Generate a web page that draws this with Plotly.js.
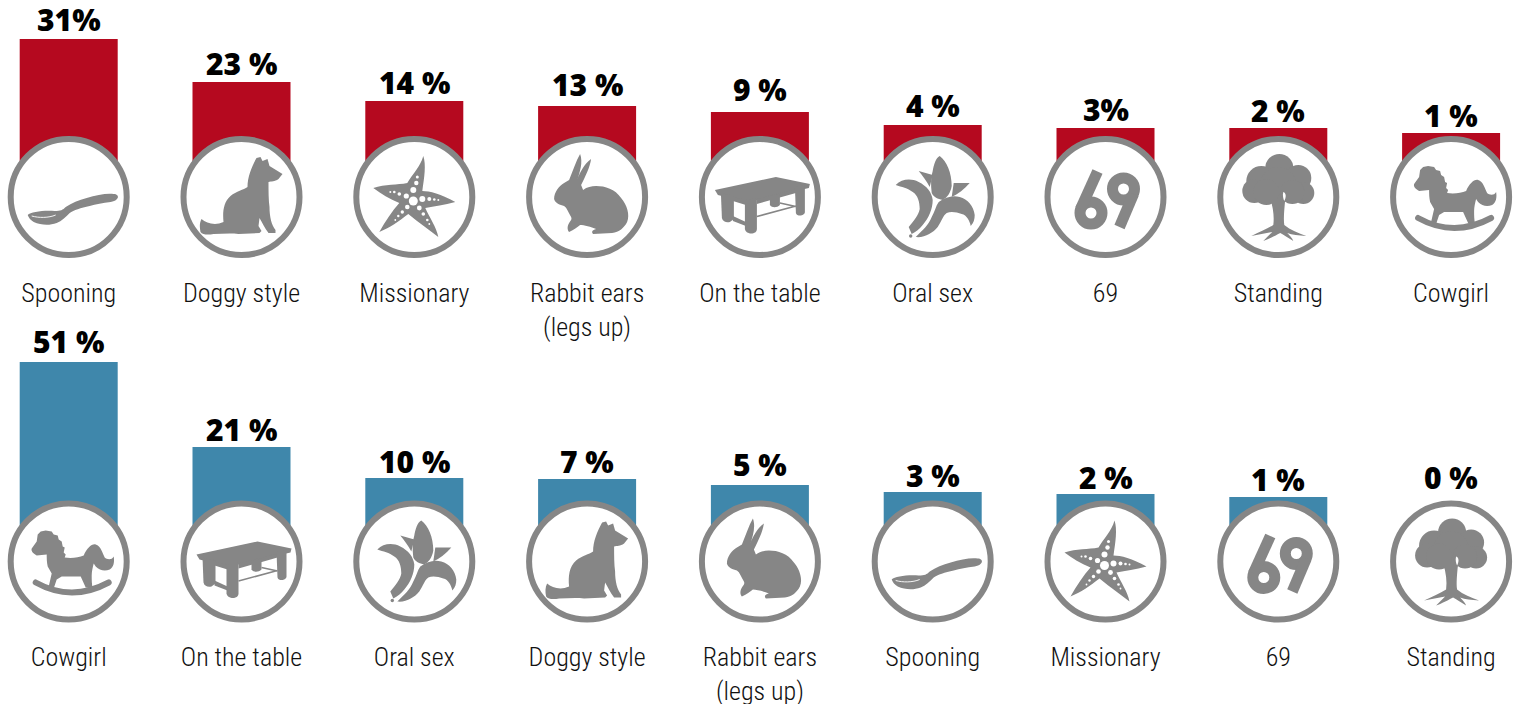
<!DOCTYPE html>
<html><head><meta charset="utf-8">
<script src="https://cdn.plot.ly/plotly-3.0.1.min.js"></script>
<style>html,body{margin:0;padding:0;background:#fff;overflow:hidden}</style>
</head><body><div id="chart" style="width:1521px;height:704px"></div>
<script>
const topCategories = ["Spooning","Doggy style","Missionary","Rabbit ears<br>(legs up)","On the table","Oral sex","69","Standing","Cowgirl"];
const topLabels = ["31%","23 %","14 %","13 %","9 %","4 %","3%","2 %","1 %"];
const topBarHeights = [158,115,96,91,85,72,69,69,64];
const bottomCategories = ["Cowgirl","On the table","Oral sex","Doggy style","Rabbit ears<br>(legs up)","Spooning","Missionary","69","Standing"];
const bottomLabels = ["51 %","21 %","10 %","7 %","5 %","3 %","2 %","1 %","0 %"];
const bottomBarHeights = [199.5,114.5,83.5,82.5,76.5,69.5,67.5,64.5,0];

const RED = "#b5091f", BLUE = "#3f87ab", GREY = "#868686", INK = "#000";
const topLabelLift = [-2,-3,-3,0,1,-2,-3,-4,-4];
const bottomLabelLift = [-1,-4,-5,-4,-1,-5,-5,-4,63];

const dots = (list) => list.map(d => `<circle cx="${d[0]}" cy="${d[1]}" r="${d[2]}" fill="#fff"/>`).join("");
const icons = {
  "Spooning": `<path d="M-41,18 C-38,15 -25,13 -14,14 C-8,14 -6,13 -3,10 C3,6 10,3 18,1 C28,-2 38,-4 45,-3 C48,-3 50,-1 49,1 C48,3 46,4 42,5 C34,6 27,7 21,9 C12,11 5,13 1,16 C-3,20 -7,24 -12,26 C-20,29 -28,28 -35,25 C-38,23 -40,21 -41,18 Z"/><path d="M-37,19 C-30,21 -20,21 -13,18" fill="none" stroke="#fff" stroke-width="0.9"/>`,
  "Doggy style": `<path d="M15,-39 L19,-40 L21,-36 L26,-38 L28,-31 L41,-23 L37,-18 C33,-15 30,-16 27,-15 C27,-6 27,3 28,10 C28,20 30,28 34,33 L34,36 L27,36 C23,31 21,26 18,21 L17,29 L20,34 L18,36 L-3,37 C-12,36 -20,37 -28,37 C-33,38 -39,38 -41,35 C-42,30 -42,26 -40,22 C-35,26 -27,29 -18,25 C-19,15 -18,5 -11,-1 C-5,-6 2,-7 6,-10 C6,-20 10,-30 15,-39 Z"/>`,
  "Missionary": `<path d="M9,-41 C12,-32 10,-20 8,-6 C15,-6 27,-3 41,5 C30,8 20,9 11,11 C15,20 22,30 24,40 C15,33 5,26 -6,17 C-15,24 -25,31 -35,35 C-29,24 -22,14 -15,6 C-25,2 -33,-3 -41,-9 C-29,-13 -17,-12 -7,-14 C-2,-23 6,-30 9,-41 Z"/>` + dots([[-1,4,4.5],[-1,-7,3],[2,-14,2.2],[3,-20,1.5],[-8,-1,2.6],[-15,-3,1.8],[-20,-5,1.3],[-24,-5,1],[8,2,3],[15,2,2],[20,2.5,1.3],[24,3,1],[5,11,2.4],[9,17,1.8],[13,23,1.3],[15,27,0.9],[-7,10,2.3],[-12,15,1.7],[-16,19,1.2],[-19,23,0.9]]),
  "Rabbit ears": `<path d="M-7,-43 C-4,-35 -7,-25 -10,-17 C-7,-25 -3,-33 4,-38 C3,-30 -2,-20 -6,-12 L-4,-7 C0,-10 4,-11 9,-11 C18,-11 28,-8 34,1 C40,8 43,18 40,25 C37,31 32,35 25,36 L6,37 C4,35 5,33 9,32 C4,30 -3,28 -7,28 C-10,30 -13,33 -18,35 C-20,33 -20,29 -18,26 C-16,23 -15,22 -16,20 C-19,15 -20,11 -23,9 C-27,8 -32,6 -33,2 C-33,-5 -28,-11 -23,-14 L-18,-17 C-14,-27 -11,-36 -7,-43 Z"/>`,
  "On the table": `<path d="M-45,-7 L16,-20 L50,-13 L49,-9 L-3,3 L-14,5 L-42,-2 Z"/><path d="M-39,-4 L-26,-1 L-26,22 L-30,25 C-33,26 -37,25 -38,21 Z"/><path d="M-27,0 L-14,3 L-14,8 L-27,4 Z"/><path d="M-15,3 L-3,1 L-3,32 C-3,38 -14,38 -15,32 Z"/><path d="M-27,19 L-14,25 L-14,29 L-27,24 Z"/><path d="M-3,2 L36,-8 L36,-4 L-3,7 Z"/><path d="M10,-1 L20,-3 L20,8 C17,11 12,11 10,8 Z"/><path d="M35,-10 L45,-12 L45,15 C45,19 37,20 36,16 Z"/><path d="M-3,19.5 L36,9 M20,6 L36,9.5" fill="none" stroke="#868686" stroke-width="1.6"/>`,
  "Oral sex": `<path d="M7,-41 C14,-36 19,-24 19,-11 C18,-4 14,1 10,3 C5,2 1,0 -1,-4 C-2,-12 -2,-20 0,-26 C1,-32 3,-39 7,-41 Z"/><path d="M-14,-26 L0,-22 L-3,-10 C-6,-16 -10,-21 -14,-26 Z"/><path d="M37,-14 L21,-14 L19,0 C25,-3 32,-8 37,-14 Z"/><path d="M-37,-12 C-31,-18 -22,-19 -14,-15 C-6,-11 -1,-5 0,3 C0,12 -4,21 -10,28 C-13,32 -17,35 -21,37 L-24,30 C-19,24 -14,18 -13,12 C-13,5 -15,-2 -20,-5 C-25,-9 -31,-10 -37,-12 Z"/><path d="M-17,40 C-10,33 -4,28 -1,20 C2,15 3,9 6,5 C13,0 20,-2 27,0 C35,2 41,9 42,18 C42,22 41,26 38,29 C37,24 34,18 29,17 C24,15 18,14 14,16 C10,19 9,24 5,30 C0,36 -8,41 -17,40 Z"/><circle cx="-22" cy="39" r="1.7"/>`,
  "69": `<circle cx="-14.5" cy="16" r="11" fill="none" stroke="#868686" stroke-width="11"/><path d="M-8,-25.5 L-25,12" fill="none" stroke="#868686" stroke-width="11"/><circle cx="18" cy="-8" r="11" fill="none" stroke="#868686" stroke-width="11"/><path d="M14,30 L28,-3" fill="none" stroke="#868686" stroke-width="11"/>`,
  "Standing": `<circle cx="1" cy="-29" r="14"/><circle cx="-17" cy="-16" r="15"/><circle cx="20" cy="-19" r="13"/><circle cx="-24" cy="-6" r="12"/><circle cx="25" cy="-4" r="11"/><circle cx="0" cy="-12" r="18"/><circle cx="-12" cy="-5" r="13"/><circle cx="14" cy="-5" r="12"/><path d="M-8,2 L7,2 C6,12 5,22 6,28 C12,33 20,36 28,39 C20,38 14,38 9,36 C11,38 14,41 15,44 C10,41 6,38 2,36 C-2,38 -9,42 -15,44 C-12,41 -9,38 -6,35 C-13,36 -20,38 -27,39 C-19,35 -11,32 -5,28 C-4,20 -5,11 -8,2 Z"/><path d="M5,-5 C8,-4 8,0 6,4 C5,2 4,-2 5,-5 Z" fill="#fff"/>`,
  "Cowgirl": `<path d="M-37,-13 L-32,-20 L-31,-27 L-28,-30 L-23,-31 L-17,-30 L-15,-27 L-11,-26 L-10,-22 L-7,-20 L-6,-15 L-4,-14 L-5,-9 L-3,-7 L-4,-4 C3,-3 10,-4 15,-6 C18,-13 23,-18 27,-17 C32,-16 34,-8 36,-4 C38,-2 43,-1 45,-5 C46,0 45,6 41,8 C36,10 31,9 27,5 L25,2 C24,6 23,10 23,14 C23,18 23,23 24,27 L17,26 L12,15 L-7,15 L-12,18 L-15,27 L-20,25 L-17,12 L-21,5 C-22,1 -22,-4 -22,-7 L-32,-6 C-35,-8 -38,-10 -37,-13 Z"/><path d="M-33,21 Q3,41 40,21" fill="none" stroke="#868686" stroke-width="6" stroke-linecap="round"/>`
};
const iconKey = (name) => name.split("<br>")[0];
const iconUri = (name) => {
  const svg = `<svg xmlns="http://www.w3.org/2000/svg" viewBox="-61 -61 122 122" width="488" height="488"><g fill="#868686">${icons[iconKey(name)]}</g></svg>`;
  return "data:image/svg+xml;charset=utf-8," + encodeURIComponent(svg);
};
const idx = topCategories.map((_, i) => i);

function row(heights, color, xa, ya) {
  return [
    {type:"bar", x:idx, y:heights, width:98/172.8, xaxis:xa, yaxis:ya,
     marker:{color:color, line:{width:0}}, hoverinfo:"skip"},
    {type:"scatter", mode:"markers", x:idx, y:idx.map(() => 0), xaxis:xa, yaxis:ya, cliponaxis:false,
     marker:{symbol:"circle", size:116, color:"#fff", opacity:1, line:{color:GREY, width:6}}, hoverinfo:"skip"}
  ];
}
function iconImages(cats, xr, yr) {
  return cats.map((c, i) => ({source:iconUri(c), xref:xr, yref:yr, x:i, y:0, sizex:122/172.8, sizey:122,
    xanchor:"center", yanchor:"middle", sizing:"stretch", layer:"above"}));
}
function valueLabels(labels, heights, lifts, xr, yr) {
  return labels.map((t, i) => ({text:t, xref:xr, yref:yr, x:i, y:heights[i], yshift:lifts[i], xanchor:"center", yanchor:"bottom",
    showarrow:false, borderpad:0, font:{family:"Open Sans", size:30, weight:800, stretch:"condensed", color:INK}}));
}
const xRange = [-68.7/172.8, (1521-68.7)/172.8];
const xAxis = (cats) => ({range:xRange, tickmode:"array", tickvals:idx, ticktext:cats, showgrid:false, zeroline:false,
  showline:false, ticks:"", tickfont:{family:"Roboto Condensed", size:26, weight:300, color:"#111"}, tickangle:0, automargin:false, fixedrange:true});
const yAxis = (r, d, anchor) => ({range:r, domain:d, anchor:anchor, showgrid:false, zeroline:false, showline:false,
  showticklabels:false, ticks:"", fixedrange:true});

const layout = {
  width:1521, height:704, margin:{l:0,r:0,t:0,b:0}, showlegend:false, barmode:"overlay",
  paper_bgcolor:"#fff", plot_bgcolor:"rgba(0,0,0,0)",
  xaxis:Object.assign(xAxis(topCategories), {anchor:"y"}),
  yaxis:yAxis([-78,197],[(704-275)/704,1],"x"),
  xaxis2:Object.assign(xAxis(bottomCategories), {anchor:"y2"}),
  yaxis2:yAxis([-77.5,222.5],[65/704,365/704],"x2"),
  images:iconImages(topCategories,"x","y").concat(iconImages(bottomCategories,"x2","y2")),
  annotations:valueLabels(topLabels, topBarHeights, topLabelLift, "x", "y").concat(valueLabels(bottomLabels, bottomBarHeights, bottomLabelLift, "x2", "y2"))
};
Plotly.newPlot("chart",
  row(topBarHeights, RED, "x", "y").concat(row(bottomBarHeights, BLUE, "x2", "y2")),
  layout, {displayModeBar:false, staticPlot:true});
</script></body></html>
